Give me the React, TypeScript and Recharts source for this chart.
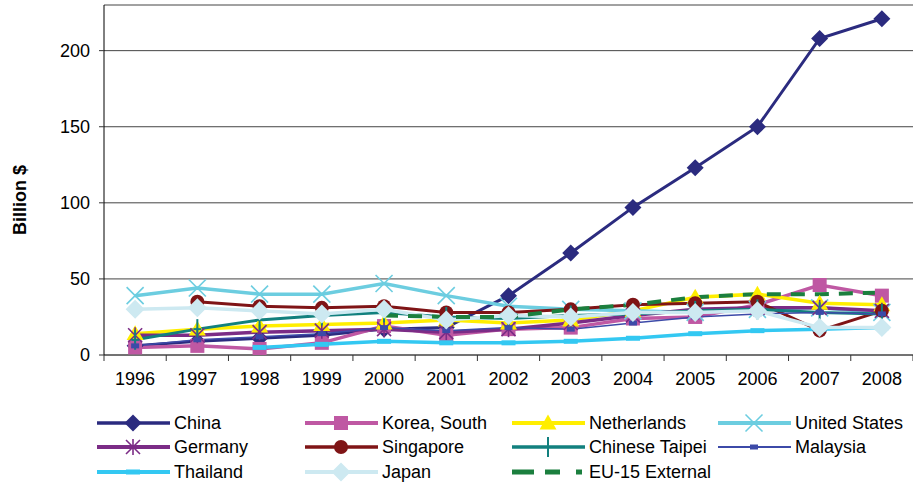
import React from "react";
import { LineChart, Line, XAxis, YAxis, CartesianGrid, Label } from "recharts";

const years = ["1996", "1997", "1998", "1999", "2000", "2001", "2002", "2003", "2004", "2005", "2006", "2007", "2008"];
const china = [6, 9, 11, 13, 17, 18, 39, 67, 97, 123, 150, 208, 221];
const korea = [5, 6, 4, 8, 19, 13, 17, 18, 24, 25, 33, 46, 39];
const netherlands = [14, 17, 19, 20, 21, 23, 21, 23, 29, 38, 40, 34, 33];
const unitedStates = [39, 44, 40, 40, 47, 39, 32, 30, 29, 28, 30, 31, 28];
const germany = [13, 13, 15, 16, 17, 15, 17, 21, 26, 30, 31, 31, 29];
const singapore = [null, 35, 32, 31, 32, 28, 28, 30, 33, 34, 35, 16, 29];
const taipei = [10, 17, 23, 26, 28, 25, 24, 26, 27, 29, 30, 28, 27];
const malaysia = [6, 10, 12, 14, 18, 16, 18, 17, 21, 25, 27, 28, 27];
const thailand = [null, null, 5, 7, 9, 8, 8, 9, 11, 14, 16, 17, 18];
const japan = [30, 31, 29, 27, 30, 23, 26, 25, 28, 28, 29, 18, 18];
const eu15 = [null, null, null, null, 26, 25, 25, 30, 33, 38, 40, 40, 41];
const yTicks = [0, 50, 100, 150, 200];

const data = years.map((y, i) => ({
  x: i,
  year: y,
  china: china[i],
  korea: korea[i],
  netherlands: netherlands[i],
  us: unitedStates[i],
  germany: germany[i],
  singapore: singapore[i],
  taipei: taipei[i],
  malaysia: malaysia[i],
  thailand: thailand[i],
  japan: japan[i],
  eu: eu15[i],
}));

const xTicks: number[] = [];
for (let i = -0.5; i <= 12.5; i += 0.5) xTicks.push(i);

type Shape = "diamond" | "square" | "triangle" | "x" | "asterisk" | "circle" | "plus" | "smalldash" | "dash" | "pdiamond" | "none";

function marker(shape: Shape, cx: number, cy: number, color: string, key?: any) {
  switch (shape) {
    case "diamond": {
      const r = 8.5;
      return <polygon key={key} points={`${cx},${cy - r} ${cx + r},${cy} ${cx},${cy + r} ${cx - r},${cy}`} fill={color} />;
    }
    case "pdiamond": {
      const r = 9.5;
      return <polygon key={key} points={`${cx},${cy - r} ${cx + r},${cy} ${cx},${cy + r} ${cx - r},${cy}`} fill={color} />;
    }
    case "square":
      return <rect key={key} x={cx - 7} y={cy - 7} width={14} height={14} fill={color} />;
    case "triangle": {
      const r = 8.5;
      return <polygon key={key} points={`${cx},${cy - r} ${cx + r},${cy + r * 0.75} ${cx - r},${cy + r * 0.75}`} fill={color} />;
    }
    case "x": {
      const r = 8.5;
      return (
        <g key={key} stroke={color} strokeWidth={1.6}>
          <line x1={cx - r} y1={cy - r} x2={cx + r} y2={cy + r} />
          <line x1={cx - r} y1={cy + r} x2={cx + r} y2={cy - r} />
        </g>
      );
    }
    case "asterisk": {
      const r = 7;
      return (
        <g key={key} stroke={color} strokeWidth={1.6}>
          <line x1={cx - r} y1={cy - r} x2={cx + r} y2={cy + r} />
          <line x1={cx - r} y1={cy + r} x2={cx + r} y2={cy - r} />
          <line x1={cx} y1={cy - r - 1} x2={cx} y2={cy + r + 1} />
        </g>
      );
    }
    case "circle":
      return <circle key={key} cx={cx} cy={cy} r={7} fill={color} />;
    case "plus":
      return (
        <g key={key} stroke={color} strokeWidth={2}>
          <line x1={cx} y1={cy - 10} x2={cx} y2={cy + 10} />
          <line x1={cx - 4} y1={cy} x2={cx + 4} y2={cy} />
        </g>
      );
    case "smalldash":
      return <rect key={key} x={cx - 4} y={cy - 2.5} width={8} height={5} fill={color} />;
    case "dash":
      return <rect key={key} x={cx - 7} y={cy - 2.5} width={14} height={5} fill={color} />;
    default:
      return <g key={key} />;
  }
}

type Series = { key: string; name: string; color: string; shape: Shape; width: number; dash?: string };

const series: Series[] = [
  { key: "china", name: "China", color: "#2b2b7f", shape: "diamond", width: 3 },
  { key: "korea", name: "Korea, South", color: "#bf58a3", shape: "square", width: 3.5 },
  { key: "netherlands", name: "Netherlands", color: "#ffee00", shape: "triangle", width: 3.5 },
  { key: "us", name: "United States", color: "#6ccde0", shape: "x", width: 3.5 },
  { key: "germany", name: "Germany", color: "#7b2c86", shape: "asterisk", width: 3.5 },
  { key: "singapore", name: "Singapore", color: "#7f1416", shape: "circle", width: 3 },
  { key: "taipei", name: "Chinese Taipei", color: "#12807e", shape: "plus", width: 3 },
  { key: "malaysia", name: "Malaysia", color: "#3c4aa8", shape: "smalldash", width: 1.5 },
  { key: "thailand", name: "Thailand", color: "#33c8f2", shape: "dash", width: 3.5 },
  { key: "japan", name: "Japan", color: "#cde9f1", shape: "pdiamond", width: 3.5 },
  { key: "eu", name: "EU-15 External", color: "#1b7f3e", shape: "none", width: 4, dash: "14 10" },
];

const FONT = "'Liberation Sans', Arial, sans-serif";

const XTick = (props: any) => {
  const { x, y, payload } = props;
  const v = payload.value as number;
  if (Math.abs(v - Math.round(v)) > 0.01) {
    return <line x1={x} y1={y} x2={x} y2={y + 6} stroke="#333" strokeWidth={1} />;
  }
  return (
    <text x={x} y={y + 30} textAnchor="middle" fontSize={18} fontFamily={FONT} fill="#000">
      {years[Math.round(v)]}
    </text>
  );
};

const LegendBlock = () => {
  const cols = [97, 305, 512, 718];
  const rows = [423, 447, 472];
  return (
    <svg width={913} height={487} style={{ position: "absolute", left: 0, top: 0, pointerEvents: "none" }}>
      {series.map((s, i) => {
        const cx = cols[i % 4];
        const cy = rows[Math.floor(i / 4)];
        return (
          <g key={s.key}>
            {s.dash ? (
              <g fill={s.color}>
                <rect x={cx} y={cy - 2.5} width={22} height={5} />
                <rect x={cx + 33} y={cy - 2.5} width={15} height={5} />
                <rect x={cx + 64} y={cy - 2.5} width={6} height={5} />
              </g>
            ) : (
              <line x1={cx} y1={cy} x2={cx + 73} y2={cy} stroke={s.color} strokeWidth={s.width + 0.5} />
            )}
            {marker(s.shape, cx + 36, cy, s.color)}
            <text x={cx + 77} y={cy} dominantBaseline="central" fontSize={18} fontFamily={FONT} fill="#000">
              {s.name}
            </text>
          </g>
        );
      })}
    </svg>
  );
};

export default function App() {
  return (
    <div style={{ position: "absolute", left: 0, top: 0, width: 913, height: 487, background: "#fff" }}>
      <LineChart width={913} height={400} data={data} margin={{ top: 5, right: 0, bottom: 0, left: 0 }}>
        <CartesianGrid horizontal={true} vertical={false} stroke="#444" strokeWidth={1} />
        <XAxis
          dataKey="x"
          type="number"
          domain={[-0.5, 12.5]}
          ticks={xTicks}
          interval={0}
          tickLine={false}
          tickSize={0}
          tickMargin={0}
          height={45}
          axisLine={{ stroke: "#444", strokeWidth: 1 }}
          tick={<XTick />}
          allowDataOverflow
        />
        <YAxis
          type="number"
          domain={[0, 230]}
          ticks={yTicks}
          interval={0}
          width={104}
          tickSize={5}
          tickMargin={9}
          axisLine={{ stroke: "#000", strokeWidth: 1 }}
          tickLine={{ stroke: "#333" }}
          tick={{ fontSize: 18, fontFamily: FONT, fill: "#000" }}
          allowDataOverflow
        >
          <Label
            content={() => (
              <text
                x={20}
                y={200}
                transform="rotate(-90 20 200)"
                textAnchor="middle"
                dominantBaseline="central"
                fontSize={18}
                fontWeight="bold"
                fontFamily={FONT}
                fill="#000"
              >
                Billion $
              </text>
            )}
          />
        </YAxis>
        {series.map((s) => (
          <Line
            key={s.key}
            dataKey={s.key}
            name={s.name}
            stroke={s.color}
            strokeWidth={s.width}
            strokeDasharray={s.dash}
            type="linear"
            connectNulls={false}
            isAnimationActive={false}
            dot={(p: any) => {
              if (p.cy == null || p.value == null || isNaN(p.cy)) return <g key={p.key} />;
              return marker(s.shape, p.cx, p.cy, s.color, p.key);
            }}
            activeDot={false}
          />
        ))}
      </LineChart>
      <LegendBlock />
    </div>
  );
}
